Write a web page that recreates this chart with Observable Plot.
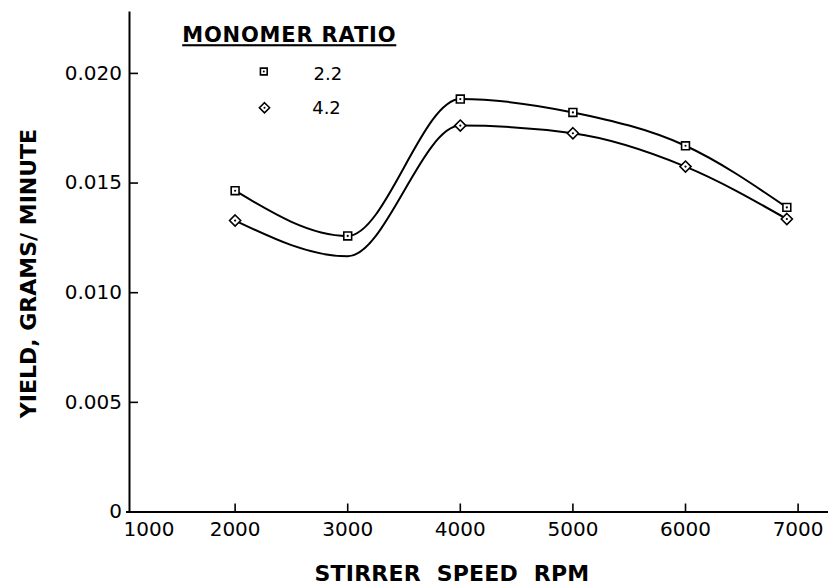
<!DOCTYPE html>
<html>
<head>
<meta charset="utf-8">
<script src="https://cdn.jsdelivr.net/npm/d3@7"></script>
<script src="https://cdn.jsdelivr.net/npm/@observablehq/plot@0.6"></script>
<style>
  html, body { margin: 0; padding: 0; background: white; }
  g[aria-description="legend-title"] text {
    letter-spacing: 0.8px;
    text-decoration: underline;
    text-decoration-thickness: 2px;
    text-underline-offset: 5px;
  }
  g[aria-description="x-title"] text { word-spacing: 8px; letter-spacing: 0.2px; }
</style>
</head>
<body>
<div id="chart"></div>
<script>
// ---- data ----
const rpm = [2000, 3000, 4000, 5000, 6000, 6900];
const yield22 = [0.01465, 0.01259, 0.01883, 0.01822, 0.01670, 0.01389];
const yield42 = [0.01329, 0.01166, 0.01762, 0.01727, 0.01575, 0.01336];
const marked42 = [true, false, true, true, true, true];
const seriesLabels = ["2.2", "4.2"];
const legendTitle = "MONOMER RATIO";
const xTicks = [1000, 2000, 3000, 4000, 5000, 6000, 7000];
const yTicks = [0, 0.005, 0.010, 0.015, 0.020];
const xTitle = "STIRRER SPEED RPM";
const yTitle = "YIELD, GRAMS/ MINUTE";

const xDomain = [1062, 7270];
const yDomain = [0, 0.0228];

const W = 831, H = 586;
const mL = 129, mR = 3, mT = 11.5, mB = 74.5;
const frameW = W - mL - mR, frameH = H - mT - mB;

const s22 = rpm.map((x, i) => ({x, y: yield22[i]}));
const s42 = rpm.map((x, i) => ({x, y: yield42[i], m: marked42[i]}));
const m42 = s42.filter(d => d.m);

const plot = Plot.plot({
  width: W, height: H,
  marginLeft: mL, marginRight: mR, marginTop: mT, marginBottom: mB,
  style: {fontFamily: "DejaVu Sans", background: "white", color: "black"},
  x: {domain: xDomain, label: null},
  y: {domain: yDomain, label: null},
  marks: [
    // axes lines
    Plot.ruleY([0], {stroke: "black", strokeWidth: 2, insetLeft: -3}),
    Plot.ruleX([xDomain[0]], {stroke: "black", strokeWidth: 2}),
    // inward ticks
    Plot.ruleX(xTicks.filter(d => d > xDomain[0]), {x: d => d, stroke: "black", strokeWidth: 1.6, insetTop: frameH - 8}),
    Plot.ruleY(yTicks.filter(d => d > 0), {y: d => d, stroke: "black", strokeWidth: 1.6, insetRight: frameW - 9}),
    // tick labels
    Plot.axisX(xTicks.filter(d => d > xDomain[0]), {tickSize: 0, tickPadding: 9.5, fontSize: 20, fill: "black", label: null,
      tickFormat: d => String(d)}),
    Plot.axisX([xDomain[0]], {tickSize: 0, tickPadding: 9.5, fontSize: 20, fill: "black", label: null,
      tickFormat: () => String(xTicks[0]), textAnchor: "start", dx: -6}),
    Plot.axisY(yTicks, {tickSize: 0, tickPadding: 7.5, fontSize: 20, fill: "black", label: null,
      tickFormat: d => d === 0 ? "0" : d.toFixed(3)}),
    // axis titles
    Plot.text([xTitle], {frameAnchor: "bottom", dx: -27, dy: 62, fontSize: 22, fontWeight: "bold",
      fill: "black", textAnchor: "middle", lineAnchor: "middle", ariaDescription: "x-title"}),
    Plot.text([yTitle], {frameAnchor: "left", rotate: -90, dx: -101, dy: 11.5, fontSize: 22, fontWeight: "bold",
      fill: "black", textAnchor: "middle", lineAnchor: "middle", ariaDescription: "y-title"}),
    // curves
    Plot.line(s22, {x: "x", y: "y", curve: "monotone-x", stroke: "black", strokeWidth: 2}),
    Plot.line(s42, {x: "x", y: "y", curve: "monotone-x", stroke: "black", strokeWidth: 2}),
    // markers
    Plot.dot(s22, {x: "x", y: "y", symbol: "square2", r: 5, fill: "white", stroke: "black", strokeWidth: 1.6}),
    Plot.dot(s22, {x: "x", y: "y", r: 1.1, fill: "black"}),
    Plot.dot(m42, {x: "x", y: "y", symbol: "diamond2", r: 5, fill: "white", stroke: "black", strokeWidth: 1.6}),
    Plot.dot(m42, {x: "x", y: "y", r: 1.1, fill: "black"}),
    // legend
    Plot.text([legendTitle], {frameAnchor: "top-left", dx: 52.7, dy: 30.2, textAnchor: "start", lineAnchor: "bottom",
      fontSize: 21, fontWeight: "bold", fill: "black", ariaDescription: "legend-title"}),
    Plot.dot([0], {frameAnchor: "top-left", dx: 134.3, dy: 59.5, symbol: "square2", r: 4.3, fill: "white", stroke: "black", strokeWidth: 1.6}),
    Plot.dot([0], {frameAnchor: "top-left", dx: 134.3, dy: 59.5, r: 1, fill: "black"}),
    Plot.text([seriesLabels[0]], {frameAnchor: "top-left", dx: 184, dy: 67.5, textAnchor: "start", lineAnchor: "bottom",
      fontSize: 18, fill: "black"}),
    Plot.dot([0], {frameAnchor: "top-left", dx: 135, dy: 95.8, symbol: "diamond2", r: 4.6, fill: "white", stroke: "black", strokeWidth: 1.6}),
    Plot.dot([0], {frameAnchor: "top-left", dx: 135, dy: 95.8, r: 1, fill: "black"}),
    Plot.text([seriesLabels[1]], {frameAnchor: "top-left", dx: 182.7, dy: 101.5, textAnchor: "start", lineAnchor: "bottom",
      fontSize: 18, fill: "black"})
  ]
});
document.getElementById("chart").appendChild(plot);
</script>
</body>
</html>
